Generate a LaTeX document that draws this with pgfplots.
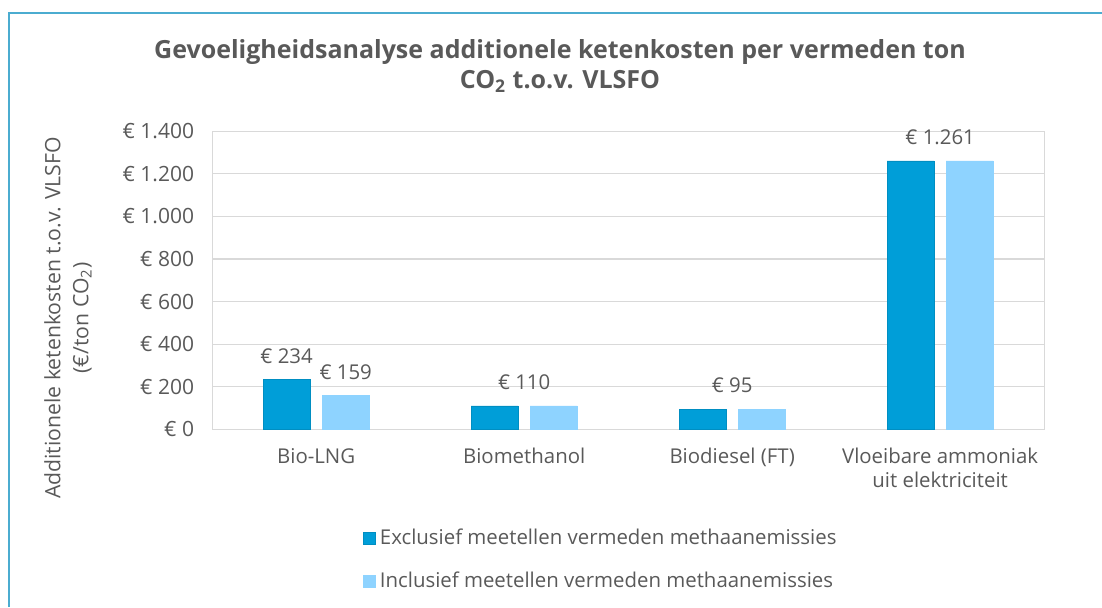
\documentclass[border=0pt]{standalone}
\usepackage{pgfplots}
\pgfplotsset{compat=1.18}
\usepackage{fontspec}
\setmainfont{Open Sans}
\definecolor{txt}{HTML}{595959}
\definecolor{barA}{HTML}{009ED8}
\definecolor{barB}{HTML}{8ED3FF}
\definecolor{gridc}{HTML}{D9D9D9}
\definecolor{frame}{HTML}{4BACD0}
\begin{document}
\begin{tikzpicture}[x=1pt,y=1pt]
\useasboundingbox (0,0) rectangle (551,303.5);
\draw[frame, line width=0.6pt] (4.5,0) -- (4.5,297) -- (551,297);
\node[txt, font=\bfseries\fontsize{12.5}{15}\selectfont, align=center] at (280,270.5)
  {Gevoeligheidsanalyse additionele ketenkosten per vermeden ton\\CO\textsubscript{2} t.o.v. VLSFO};
\node[txt, font=\fontsize{10.6}{14}\selectfont, align=center, rotate=90] at (34,144.5)
  {Additionele ketenkosten t.o.v. VLSFO\\(€/ton CO\textsubscript{2})};
\begin{axis}[
  at={(102,83.5)}, anchor=south west,
  scale only axis, width=416pt, height=149pt,
  xmin=-0.5, xmax=3.5, ymin=0, ymax=1400,
  ytick={0,200,...,1400},
  xtick={0,1,2,3},
  xticklabels={Bio-LNG, Biomethanol, Biodiesel (FT), {Vloeibare ammoniak\\uit elektriciteit}},
  xticklabel style={align=center, font=\fontsize{10.2}{12}\selectfont, text=txt, yshift=-6pt},
  yticklabel style={font=\fontsize{10.5}{12}\selectfont, text=txt, xshift=-5.5pt},
  /pgf/number format/.cd, set thousands separator={.}, assume math mode=true, 1000 sep={.},
  /pgfplots/.cd,
  yticklabel={€ \pgfmathprintnumber{\tick}},
  major tick length=0pt,
  ymajorgrids, grid style={gridc, line width=0.6pt},
  axis line style={gridc, line width=0.6pt},
  legend style={at={(0.174,-0.305)}, anchor=north west, draw=none, fill=none,
    font=\fontsize{10.2}{12}\selectfont, text=txt, row sep=8.5pt,
    /tikz/every even column/.append style={column sep=2pt}},
  legend cell align=left,
  legend image code/.code={\fill (0pt,-3pt) rectangle (6pt,3pt);},
  nodes near coords style={font=\fontsize{10.2}{12}\selectfont, text=txt, anchor=south, yshift=4.5pt},
]
\addplot[ybar, bar width=23.5pt, bar shift=-14.75pt, fill=barA, draw=barA!90!black, line width=0.3pt]
  coordinates {(0,234) (1,110) (2,95) (3,1261)};
\addlegendentry{Exclusief meetellen vermeden methaanemissies}
\addplot[ybar, bar width=23.5pt, bar shift=14.75pt, fill=barB, draw=barB, line width=0.3pt]
  coordinates {(0,159) (1,110) (2,95) (3,1261)};
\addlegendentry{Inclusief meetellen vermeden methaanemissies}
\addplot[draw=none, mark=none, forget plot, nodes near coords, point meta=explicit symbolic]
  coordinates {(-0.142,234)[€ 234] (0.142,159)[€ 159] (1,110)[€ 110] (2,95)[€ 95] (3,1261)[€ 1.261]};
\end{axis}
\end{tikzpicture}
\end{document}
